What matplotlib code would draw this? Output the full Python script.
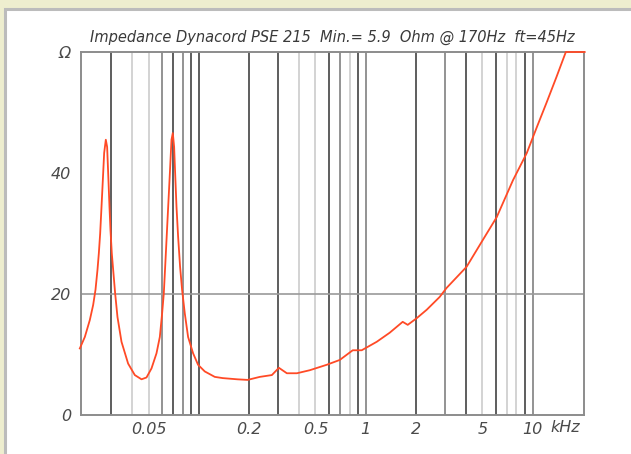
import matplotlib.pyplot as plt
from matplotlib.patches import Rectangle

# impedance curve (frequency in kHz, impedance in ohm)
freq_khz = [0.01938, 0.02077, 0.02225, 0.02330, 0.02406, 0.02473, 0.02519, 0.02566,
            0.02614, 0.02662, 0.02711, 0.02774, 0.02825, 0.02877, 0.02918, 0.02958,
            0.03013, 0.03083, 0.03155, 0.03258, 0.03444, 0.03773, 0.04138, 0.04538,
            0.04862, 0.05209, 0.05581, 0.05843, 0.06031, 0.06173, 0.06319, 0.06496,
            0.06678, 0.06864, 0.06989, 0.07118, 0.07217, 0.07354, 0.07518, 0.07727,
            0.07943, 0.08244, 0.08628, 0.09245, 0.09904, 0.1086, 0.1247, 0.139,
            0.170, 0.196, 0.232, 0.274, 0.302, 0.337, 0.387, 0.462, 0.584, 0.699, 0.836,
            0.946, 1.164, 1.392, 1.665, 1.785, 2.02, 2.32, 2.77, 3.05, 4.02, 5.02, 6.09,
            7.62, 9.22, 10.6, 12.1, 13.9, 15.8, 20.5]
impedance = [11.0, 12.9, 15.7, 18.2, 20.7, 24.0, 26.7, 30.0,
             34.4, 38.8, 43.3, 45.5, 44.3, 38.8, 34.4, 30.6,
             26.7, 23.4, 20.1, 16.2, 12.1, 8.5, 6.6, 5.9,
             6.2, 7.7, 10.2, 12.9, 16.8, 20.1, 25.6, 32.2,
             38.8, 45.5, 46.6, 44.3, 40.0, 34.4, 29.5, 24.5,
             20.7, 16.8, 12.9, 10.2, 8.3, 7.2, 6.3, 6.1,
             5.9, 5.8, 6.3, 6.6, 7.8, 6.9, 6.9, 7.4, 8.3, 9.1, 10.7,
             10.7, 12.1, 13.6, 15.4, 14.9, 16.0, 17.4, 19.5, 21.0, 24.5, 28.9, 32.7,
             38.8, 43.3, 47.6, 51.6, 55.9, 60.0, 60.0]

x_ticks = [0.05, 0.2, 0.5, 1, 2, 5, 10]
x_labels = ['0.05', '0.2', '0.5', '1', '2', '5', '10']
y_ticks = [0, 20, 40, 60]
y_labels = ['0', '20', '40', 'Ω']

# vertical grid lines and their shade as seen in the picture
grid_khz = [0.03, 0.04, 0.05, 0.06, 0.07, 0.08, 0.09, 0.1, 0.2, 0.3, 0.4, 0.5, 0.6,
            0.7, 0.8, 0.9, 1, 2, 3, 4, 5, 6, 7, 8, 9, 10]
grid_shade = ['d', 'l', 'l', 'm', 'd', 'm', 'd', 'd', 'd', 'd', 'l', 'l', 'd',
              'm', 'l', 'd', 'm', 'd', 'm', 'd', 'l', 'd', 'l', 'l', 'd', 'm']
shade_col = {'d': '#505050', 'm': '#8a8a8a', 'l': '#d0d0d0'}

title = 'Impedance Dynacord PSE 215  Min.= 5.9  Ohm @ 170Hz  ft=45Hz'

plt.rcParams['font.family'] = ['DejaVu Sans']

W, H = 631, 454
fig = plt.figure(figsize=(W / 100, H / 100), dpi=100, facecolor='#eeeecf')
fig.patches.append(Rectangle((5 / W, -0.1), 1.1, (H - 9) / H + 0.1, transform=fig.transFigure,
                             facecolor='white', edgecolor='#bcbcbc', linewidth=2.2, zorder=-5))

ax = fig.add_axes([81 / W, (H - 415) / H, (584 - 81) / W, (415 - 52) / H])
ax.set_facecolor('white')
ax.set_xscale('log')
ax.set_xlim(0.0197, 20.3)
ax.set_ylim(0, 60)

for f, s in zip(grid_khz, grid_shade):
    ax.axvline(f, color=shade_col[s], linewidth=1.3, zorder=1)
ax.axhline(20, color='#9a9a9a', linewidth=1.2, zorder=1)

ax.plot(freq_khz, impedance, color='#ff4a26', linewidth=1.3, zorder=3, clip_on=False)

for sp in ax.spines.values():
    sp.set_color('#8c8c8c')
    sp.set_linewidth(1.4)

ax.set_xticks(x_ticks)
ax.set_xticklabels(x_labels)
ax.minorticks_off()
ax.set_yticks(y_ticks)
ax.set_yticklabels(y_labels)
ax.tick_params(length=0, labelsize=11.5, colors='#4a4a4a', pad=5)
ax.tick_params(axis='y', pad=7)
for lab in ax.get_xticklabels() + ax.get_yticklabels():
    lab.set_fontstyle('italic')

ax.text(15.6, -13 / 363, 'kHz', transform=ax.get_xaxis_transform(), ha='center',
        va='center', fontsize=11.5, style='italic', color='#4a4a4a')
ax.set_title(title, fontsize=10.5, style='italic', color='#3a3a3a', pad=7)

fig.savefig('out.png', dpi=100, facecolor=fig.get_facecolor())
